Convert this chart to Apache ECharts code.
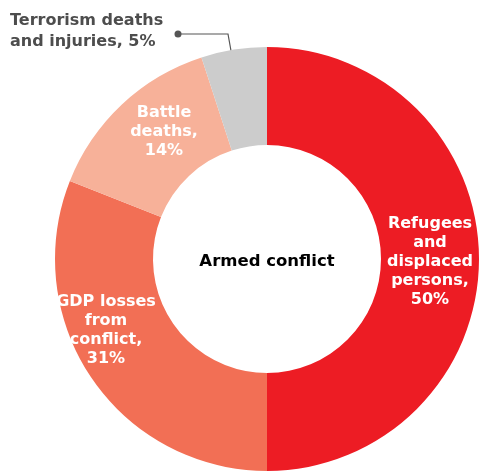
<!DOCTYPE html>
<html><head><meta charset="utf-8">
<script src="https://cdn.jsdelivr.net/npm/echarts@6/dist/echarts.min.js"></script>
<style>html,body{margin:0;padding:0;background:#fff}#c{width:482px;height:472px}</style>
</head><body><div id="c"></div>
<script>
const categories = ['Refugees\nand\ndisplaced\npersons', 'GDP losses\nfrom\nconflict', 'Battle\ndeaths', 'Terrorism deaths\nand injuries'];
const values = [50, 31, 14, 5];
const colors = ['#ED1C24', '#F26F55', '#F7B199', '#CCCCCC'];
const centerTitle = 'Armed conflict';

const FONT = '"DejaVu Sans", sans-serif';
const CX = 267, CY = 259;
const labelPos = [[430, 262], [106, 330], [164, 132], [10, 31]];

const chart = echarts.init(document.getElementById('c'));
chart.setOption({
  animation: false,
  series: [{
    type: 'pie',
    center: [CX, CY],
    radius: [114, 212],
    startAngle: 90,
    clockwise: true,
    silent: true,
    data: categories.map((c, i) => ({
      name: c, value: values[i],
      itemStyle: { color: colors[i] },
      label: i === 3 ? {
        color: '#4D4D4D', lineHeight: 21
      } : {
        color: '#fff', lineHeight: 19
      }
    })),
    label: {
      show: true,
      position: 'inside',
      fontFamily: FONT,
      fontWeight: 'bold',
      fontSize: 16,
      formatter: p => p.name + ',' + (p.dataIndex === 3 ? ' ' : '\n') + p.value + '%'
    },
    labelLine: { show: false },
    labelLayout: function (p) {
      const i = p.dataIndex;
      return {
        x: labelPos[i][0], y: labelPos[i][1],
        align: i === 3 ? 'left' : 'center',
        verticalAlign: 'middle'
      };
    }
  }],
  graphic: [
    { type: 'polyline', shape: { points: [[233, 62], [228, 34], [178, 34]] }, style: { stroke: '#555', lineWidth: 1.2, fill: null } },
    { type: 'circle', shape: { cx: 178, cy: 34, r: 3.5 }, style: { fill: '#555' } },
    { type: 'text', x: CX, y: 262, style: { text: centerTitle, font: 'bold 16.5px ' + FONT, fill: '#000', align: 'center', verticalAlign: 'middle' } }
  ]
});
</script></body></html>
